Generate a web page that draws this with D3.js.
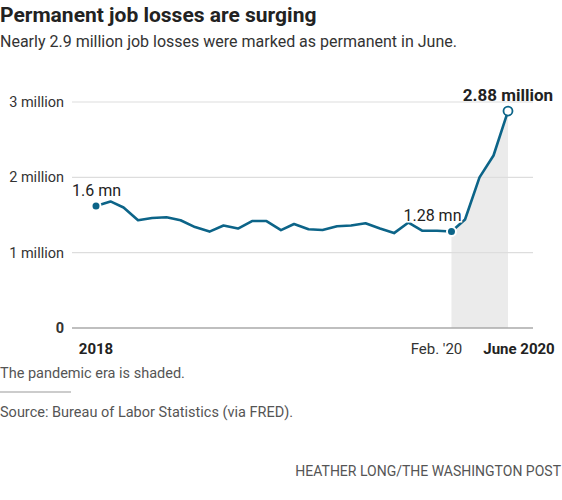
<!DOCTYPE html>
<html>
<head>
<meta charset="utf-8">
<script src="https://cdn.jsdelivr.net/npm/d3@7"></script>
<style>
  body { margin: 0; background: #fff; }
  svg { display: block; font-family: Roboto, "Liberation Sans", sans-serif; }
</style>
</head>
<body>
<svg id="chart" width="562" height="500"></svg>
<script>
// monthly permanent job losers, millions (Jan 2018 - Jun 2020)
var months = ["2018-01","2018-02","2018-03","2018-04","2018-05","2018-06","2018-07","2018-08","2018-09","2018-10","2018-11","2018-12",
              "2019-01","2019-02","2019-03","2019-04","2019-05","2019-06","2019-07","2019-08","2019-09","2019-10","2019-11","2019-12",
              "2020-01","2020-02","2020-03","2020-04","2020-05","2020-06"];
var losses = [1.62,1.68,1.60,1.43,1.46,1.47,1.43,1.34,1.28,1.36,1.32,1.42,
              1.42,1.30,1.38,1.31,1.30,1.35,1.36,1.39,1.32,1.26,1.40,1.29,
              1.29,1.28,1.44,2.00,2.29,2.88];
var yTicks = [0, 1, 2, 3];
var yTickLabels = ["0", "1 million", "2 million", "3 million"];
var xTicks = ["2018-01", "2020-02", "2020-06"];
var xTickLabels = ["2018", "Feb. '20", "June 2020"];
var shadeStart = "2020-02";

var parse = d3.timeParse("%Y-%m");
var data = months.map(function(m, i) { return { date: parse(m), value: losses[i] }; });

var svg = d3.select("#chart");
var blue = "#0c6488";

var x = d3.scaleTime()
    .domain(d3.extent(data, function(d) { return d.date; }))
    .range([96, 508]);
var y = d3.scaleLinear().domain([0, 3]).range([328, 102]);

// titles
svg.append("text").attr("x", 0).attr("y", 22)
    .style("font-size", "21px").style("font-weight", "bold").attr("fill", "#222")
    .text("Permanent job losses are surging");
svg.append("text").attr("x", 0).attr("y", 47)
    .style("font-size", "16px").attr("fill", "#333")
    .text("Nearly 2.9 million job losses were marked as permanent in June.");

// shaded pandemic era
var pandemic = data.filter(function(d) { return d.date >= parse(shadeStart); });
svg.append("path")
    .datum(pandemic)
    .attr("fill", "#ebebeb")
    .attr("d", d3.area()
        .x(function(d) { return x(d.date); })
        .y0(y(0))
        .y1(function(d) { return y(d.value); }));

// gridlines
svg.append("g").selectAll("line")
    .data(yTicks)
    .enter().append("line")
    .attr("x1", 72).attr("x2", 533)
    .attr("y1", function(d) { return y(d); })
    .attr("y2", function(d) { return y(d); })
    .attr("stroke", function(d) { return d == 0 ? "#aaa" : "#ddd"; })
    .attr("stroke-width", function(d) { return d == 0 ? 1.5 : 1.2; });

svg.append("g").selectAll("text")
    .data(yTicks)
    .enter().append("text")
    .attr("x", 64)
    .attr("y", function(d) { return y(d) + 5; })
    .attr("text-anchor", "end")
    .style("font-size", "14.5px")
    .style("font-weight", function(d) { return d == 0 ? "bold" : "normal"; })
    .attr("fill", "#333")
    .text(function(d, i) { return yTickLabels[i]; });

// x labels
var xOffsets = [0, -15, 11];
svg.append("g").selectAll("text")
    .data(xTicks)
    .enter().append("text")
    .attr("x", function(d, i) { return x(parse(d)) + xOffsets[i]; })
    .attr("y", 354)
    .attr("text-anchor", "middle")
    .style("font-size", "15px")
    .style("font-weight", function(d, i) { return i == 1 ? "normal" : "bold"; })
    .attr("fill", function(d, i) { return i == 1 ? "#333" : "#222"; })
    .text(function(d, i) { return xTickLabels[i]; });

// line
svg.append("path")
    .datum(data)
    .attr("fill", "none")
    .attr("stroke", blue)
    .attr("stroke-width", 2.6)
    .attr("stroke-linejoin", "round")
    .attr("d", d3.line()
        .x(function(d) { return x(d.date); })
        .y(function(d) { return y(d.value); }));

// dots
var first = data[0], feb = data[25], last = data[data.length - 1];
[first, feb].forEach(function(d) {
    svg.append("circle")
        .attr("cx", x(d.date)).attr("cy", y(d.value)).attr("r", 4.5)
        .attr("fill", blue).attr("stroke", "#fff").attr("stroke-width", 2);
});
svg.append("circle")
    .attr("cx", x(last.date)).attr("cy", y(last.value)).attr("r", 4.5)
    .attr("fill", "#fff").attr("stroke", blue).attr("stroke-width", 1.8);

// annotations
svg.append("text").attr("x", x(first.date) - 24).attr("y", y(first.value) - 10)
    .style("font-size", "16px").attr("fill", "#222").text("1.6 mn");
svg.append("text").attr("x", x(feb.date) + 10).attr("y", y(feb.value) - 11)
    .attr("text-anchor", "end")
    .style("font-size", "16px").attr("fill", "#222")
    .attr("stroke", "#fff").attr("stroke-width", 3).attr("paint-order", "stroke")
    .text("1.28 mn");
svg.append("text").attr("x", x(last.date)).attr("y", y(last.value) - 10)
    .attr("text-anchor", "middle")
    .style("font-size", "17px").style("font-weight", "bold").attr("fill", "#222")
    .text("2.88 million");

// notes
svg.append("text").attr("x", 0).attr("y", 378)
    .style("font-size", "14.5px").attr("fill", "#555")
    .text("The pandemic era is shaded.");
svg.append("line").attr("x1", 0).attr("x2", 71).attr("y1", 392).attr("y2", 392)
    .attr("stroke", "#ccc").attr("stroke-width", 2);
svg.append("text").attr("x", 0).attr("y", 417)
    .style("font-size", "14.5px").attr("fill", "#555")
    .text("Source: Bureau of Labor Statistics (via FRED).");
svg.append("text").attr("x", 561).attr("y", 476)
    .attr("text-anchor", "end")
    .style("font-size", "14px").attr("fill", "#555")
    .text("HEATHER LONG/THE WASHINGTON POST");
</script>
</body>
</html>
